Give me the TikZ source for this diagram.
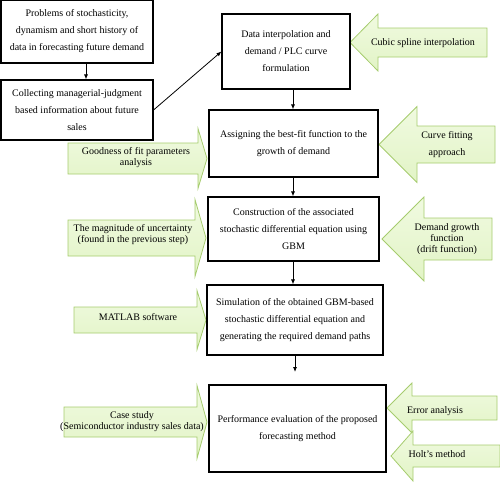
\documentclass[tikz,border=0pt]{standalone}
\usepackage{fontspec}
\setmainfont{Liberation Serif}
\usetikzlibrary{arrows.meta}

\definecolor{arrfill}{RGB}{226,244,198}
\definecolor{arrtop}{RGB}{240,250,224}
\definecolor{arrline}{RGB}{166,204,110}

% block arrow: tail x, head back x, tip x, centre y, body half height, head half height
\newcommand{\blockarr}[6]{%
  \draw[greenarr] (#1,{#4-#5}) -- (#2,{#4-#5}) -- (#2,{#4-#6}) -- (#3,#4)
    -- (#2,{#4+#6}) -- (#2,{#4+#5}) -- (#1,{#4+#5}) -- cycle;}

\begin{document}
\begin{tikzpicture}[x=1pt, y=-1pt,
    stepbox/.style={draw, line width=1.1pt, inner sep=0pt, align=center,
      font=\fontsize{10}{17}\selectfont},
    greenarr/.style={draw=arrline, line width=0.8pt, top color=arrtop, bottom color=arrfill},
    arrtext/.style={align=center, inner sep=0pt, font=\fontsize{10}{11}\selectfont},
    flow/.style={line width=0.8pt, -{Latex[length=5pt,width=4pt]}}
    ]
    \useasboundingbox (0,0) rectangle (500,485);

    % input arrows
    \blockarr{487}{378}{350}{42.5}{14.5}{28.5}
    \blockarr{495}{417}{379}{144.5}{18.5}{38}
    \blockarr{68}{198}{207}{158.5}{15.5}{30}
    \blockarr{68}{195}{206}{238}{18}{38.5}
    \blockarr{492}{424}{382}{239}{21}{42}
    \blockarr{74}{197}{206}{320}{13}{29.5}
    \blockarr{64}{197}{207}{422}{15}{36.5}
    \blockarr{497}{412}{387}{408}{12}{25}
    \blockarr{500}{413}{391}{456}{11}{25}

    \node[arrtext] (spline) at (423,43) {Cubic spline interpolation};
    \node[arrtext, font=\fontsize{10}{17}\selectfont] (fitting) at (447,145) {Curve fitting\\approach};
    \node[arrtext] (goodness) at (136,158) {Goodness of fit parameters\\analysis};
    \node[arrtext] (magnitude) at (133,235) {The magnitude of uncertainty\\(found in the previous step)};
    \node[arrtext] (drift) at (447,239) {Demand growth\\function\\(drift function)};
    \node[arrtext] (matlab) at (138,317) {MATLAB software};
    \node[arrtext] (case) at (132,422) {Case study\\(Semiconductor industry sales data)};
    \node[arrtext] (error) at (435,411) {Error analysis};
    \node[arrtext] (holt) at (437,454) {Holt's method};

    % main steps
    \node[stepbox, minimum width=152, minimum height=63] (prob) at (77,31.5)
      {Problems of stochasticity,\\dynamism and short history of\\data in forecasting future demand};
    \node[stepbox, minimum width=152, minimum height=60] (coll) at (77,110)
      {Collecting managerial-judgment\\based information about future\\sales};
    \node[stepbox, minimum width=128, minimum height=75] (data) at (286,51.5)
      {Data interpolation and\\demand / PLC curve\\formulation};
    \node[stepbox, minimum width=169, minimum height=67] (assign) at (293.5,143.5)
      {Assigning the best-fit function to the\\growth of demand};
    \node[stepbox, minimum width=171, minimum height=64] (constr) at (293.5,229)
      {Construction of the associated\\stochastic differential equation using\\GBM};
    \node[stepbox, minimum width=176, minimum height=70] (simul) at (295,320)
      {Simulation of the obtained GBM-based\\stochastic differential equation and\\generating the required demand paths};
    \node[stepbox, minimum width=177, minimum height=87] (perf) at (297.5,428.5)
      {Performance evaluation of the proposed\\forecasting method};

    \coordinate (perfin) at (295,372);

    \draw[flow] ([xshift=9pt]prob.south) -- ([xshift=9pt]coll.north);
    \draw[flow] (coll.east) -- (data.west);
    \draw[flow] (data.south -| 293,0) -- (assign.north -| 293,0);
    \draw[flow] (assign.south -| 293,0) -- (constr.north -| 293,0);
    \draw[flow] (constr.south -| 293,0) -- (simul.north -| 293,0);
    \draw[flow] (simul.south -| perfin) -- (perfin);
  \end{tikzpicture}
\end{document}
